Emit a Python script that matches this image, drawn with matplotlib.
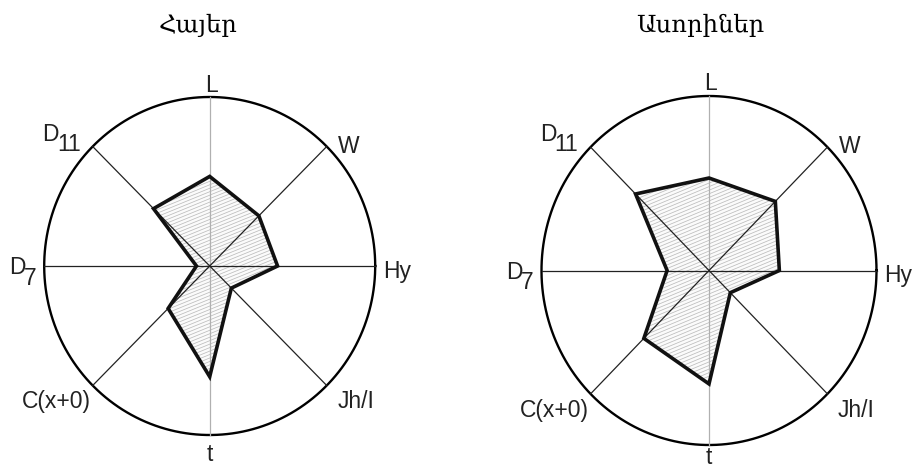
import numpy as np
import matplotlib
matplotlib.use("Agg")
import matplotlib.pyplot as plt
from matplotlib.patches import Polygon
from matplotlib.collections import LineCollection

# axis names, clockwise from the top
axis_labels = ["L", "W", "Hy", "Jh/I", "t", "C(x+0)", "D", "D"]
subscripts = ["", "", "", "", "", "", "7", "11"]

titles = ["Հայեր", "Ասորիներ"]

# relative values along each axis (1.0 = outer circle)
armenians = [0.53, 0.42, 0.41, 0.185, 0.655, 0.355, 0.08, 0.48]
assyrians = [0.53, 0.56, 0.42, 0.18, 0.65, 0.55, 0.25, 0.62]

W_PX, H_PX = 913, 472

# label placement in units of the circle radius
label_pos = [
    (0.01, 1.07, "center"),
    (0.775, 0.71, "left"),
    (1.045, -0.03, "left"),
    (0.77, -0.80, "left"),
    (0.0, -1.0, "center"),
    (-0.72, -0.80, "right"),
    (-1.11, -0.01, "right"),
    (-0.91, 0.78, "right"),
]


def add_hatch(ax, patch, spacing=0.0205, slope=0.40):
    # shallow diagonal hatch clipped to the polygon
    offsets = np.arange(-2.0, 2.0, spacing)
    x = np.array([-1.2, 1.2])
    segs = [np.column_stack([x, slope * x + b]) for b in offsets]
    lc = LineCollection(segs, colors="#bcbcbc", linewidths=0.55, zorder=2)
    ax.add_collection(lc)
    lc.set_clip_path(patch)


def draw_chart(ax, values, title, title_x, t_gap):
    angles = np.deg2rad(90 - 45 * np.arange(len(values)))
    vals = np.array(values)

    t = np.linspace(0, 2 * np.pi, 400)
    ax.plot(np.cos(t), np.sin(t), color="black", lw=1.7, zorder=3)

    # spokes: vertical one light grey, the others black
    for a in angles[:4]:
        col = "#b0b0b0" if np.isclose(np.cos(a), 0) else "#222222"
        ax.plot([np.cos(a), -np.cos(a)], [np.sin(a), -np.sin(a)],
                color=col, lw=0.9, zorder=4)

    pts = np.column_stack([vals * np.cos(angles), vals * np.sin(angles)])
    fill = Polygon(pts, closed=True, facecolor="#fbfbfb", edgecolor="none", zorder=1)
    ax.add_patch(fill)
    add_hatch(ax, fill)
    outline = Polygon(pts, closed=True, facecolor="none", edgecolor="#111111",
                      lw=2.6, joinstyle="miter", zorder=5)
    ax.add_patch(outline)

    for (x, y, ha), lab, sub in zip(label_pos, axis_labels, subscripts):
        if lab == "t":
            # bottom label hangs just below the circle
            ax.annotate(lab, (x, y), xytext=(0, -t_gap), textcoords="offset points",
                        ha="center", va="top", fontsize=16.5,
                        family="Liberation Sans", color="#222222")
            continue
        ax.text(x, y, lab, ha=ha, va="center", fontsize=16.5,
                family="Liberation Sans", color="#222222")
        if sub:
            ax.annotate(sub, (x, y), xytext=(-1.5, -7.5), textcoords="offset points",
                        ha="left", va="center", fontsize=16.5,
                        family="Liberation Sans", color="#222222")

    ax.set_xlim(-1.25, 1.25)
    ax.set_ylim(-1.25, 1.25)
    ax.axis("off")

    fig.text(title_x, 1 - 25 / H_PX, title, ha="center", va="center",
             fontsize=17.5, family="DejaVu Serif")


fig = plt.figure(figsize=(W_PX / 100, H_PX / 100), dpi=100)

# circle centre and radii in pixels for each panel
panels = [(209.7, 266.0, 165.5, 169.0), (709.0, 270.5, 167.5, 174.5)]
title_xs = [198 / W_PX, 700 / W_PX]
t_gaps = [6, 0.5]

for (cx, cy, rx, ry), vals, title, tx, tg in zip(panels, [armenians, assyrians],
                                                  titles, title_xs, t_gaps):
    left = (cx - 1.25 * rx) / W_PX
    bottom = (H_PX - (cy + 1.25 * ry)) / H_PX
    ax = fig.add_axes([left, bottom, 2.5 * rx / W_PX, 2.5 * ry / H_PX])
    draw_chart(ax, vals, title, tx, tg)

fig.savefig("out.png", dpi=100)
